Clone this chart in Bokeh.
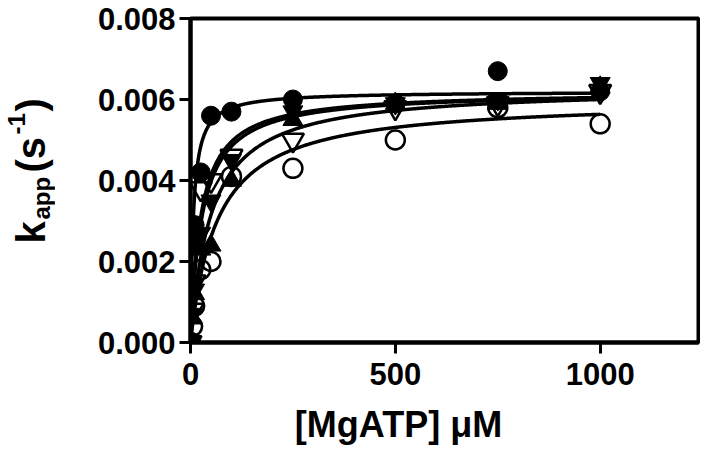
import numpy as np
from bokeh.plotting import figure
from bokeh.layouts import row, column
from bokeh.models import Range1d, FixedTicker, Label
from bokeh.embed import file_html
from bokeh.resources import INLINE

# ---------------- data ----------------
conc = [0, 5, 10, 25, 50, 100, 250, 500, 750, 1000]          # [MgATP] uM
k_filled_circle = [0.0000, 0.0025, 0.0029, 0.0042, 0.0056, 0.0057, 0.0060, 0.0059, 0.0067, 0.0062]
k_open_invtri   = [0.0000, 0.0008, 0.0015, 0.0038, 0.0040, 0.0046, 0.0050, 0.0058, 0.0059, 0.0062]
k_filled_tri    = [0.0000, 0.0006, 0.0012, 0.0023, 0.0024, 0.0040, 0.0055, 0.0059, 0.0059, 0.0063]
k_open_circle   = [0.0000, 0.0004, 0.0009, 0.0018, 0.0020, 0.0041, 0.0043, 0.0050, 0.0058, 0.0054]
k_filled_invtri = [0.0000, 0.0007, 0.0013, 0.0027, 0.0035, 0.0045, 0.0057, 0.0059, 0.0060, 0.0064]

# fitted hyperbola parameters (Vmax, Km) per series
fit_vmax = [0.0062, 0.0062, 0.0063, 0.0060, 0.0062]
fit_km   = [7, 25, 50, 65, 28]

x_ticks = [0, 500, 1000]
y_ticks = [0.000, 0.002, 0.004, 0.006, 0.008]
y_tick_labels = ["0.000", "0.002", "0.004", "0.006", "0.008"]
x_title = "[MgATP] \u03bcM"

FONT = "Liberation Sans"

# ---------------- layout ----------------
PAGE = 8
TOTAL_W, TOTAL_H = 700, 447
TITLE_H = 46                 # strip below that carries the x title
H = TOTAL_H - TITLE_H        # height of main row
LW_FIG = 55                  # narrow figure that carries the y title
W = TOTAL_W - LW_FIG         # main figure
FL, FR, FT, FB = 198 - PAGE - LW_FIG, W - 2, 18, 342   # frame edges (main fig px)
X0, X1 = 0, 1240
Y0, Y1 = 0.0, 0.008

p = figure(width=W, height=H, output_backend="svg", toolbar_location=None,
           x_range=Range1d(X0, X1), y_range=Range1d(Y0, Y1),
           min_border_left=FL, min_border_right=W - FR, min_border_top=FT,
           min_border_bottom=H - FB)
p.grid.visible = False
p.background_fill_color = "white"
p.border_fill_color = "white"
p.outline_line_color = "black"
p.outline_line_width = 4

for ax in (p.xaxis[0], p.yaxis[0]):
    ax.axis_line_width = 4
    ax.major_tick_line_width = 3
    ax.major_tick_out = 11
    ax.major_tick_in = 0
    ax.minor_tick_line_color = None
    ax.major_label_text_font = FONT
    ax.major_label_text_font_style = "bold"
    ax.major_label_text_font_size = "31px"
    ax.major_label_text_color = "black"

p.xaxis.ticker = FixedTicker(ticks=x_ticks)
p.yaxis.ticker = FixedTicker(ticks=y_ticks)
p.yaxis.major_label_overrides = {t: s for t, s in zip(y_ticks, y_tick_labels)}
p.xaxis.major_label_standoff = 9
p.yaxis.major_label_standoff = 4

# ---------------- fitted curves ----------------
xs = np.linspace(0, 1000, 600)
for vmax, km in zip(fit_vmax, fit_km):
    p.line(xs, vmax * xs / (km + xs), line_color="black", line_width=3.5)

# ---------------- data points ----------------
LW = 2.5
p.scatter(conc, k_open_circle, marker="circle", size=19, fill_alpha=0,
          line_color="black", line_width=LW)
p.scatter(conc, k_open_invtri, marker="inverted_triangle", size=22, fill_alpha=0,
          line_color="black", line_width=LW)
p.scatter(conc, k_filled_tri, marker="triangle", size=20, fill_color="black",
          line_color="black")
p.scatter(conc, k_filled_invtri, marker="inverted_triangle", size=20, fill_color="black",
          line_color="black")
p.scatter(conc, k_filled_circle, marker="circle", size=19, fill_color="black",
          line_color="black")

# ---------------- y title in its own narrow figure ----------------
# its frame is aligned with the main frame; ranges are set so that data coords = page px
q = figure(width=LW_FIG, height=H, output_backend="svg", toolbar_location=None,
           x_range=Range1d(PAGE, PAGE + LW_FIG),
           y_range=Range1d(FB + PAGE, FT + PAGE),
           x_axis_location=None, y_axis_location=None,
           min_border_left=0, min_border_right=0,
           min_border_top=FT, min_border_bottom=H - FB)
q.grid.visible = False
q.outline_line_color = None
q.border_fill_color = "white"
q.background_fill_color = "white"

ylab_parts = [
    # text, start (page y), baseline (page x), size
    ("k", 251, 38, "40px"),
    ("app", 227, 49, "24px"),
    ("(s", 180, 38, "40px"),
    ("-1", 142, 24, "24px"),
    (")", 119, 38, "40px"),
]
for txt, py, px, fs in ylab_parts:
    q.add_layout(Label(x=px, y=py, text=txt, angle=np.pi / 2,
                       text_font=FONT, text_font_style="bold", text_font_size=fs,
                       text_align="left", text_baseline="alphabetic",
                       text_color="black"))

# ---------------- x title in a strip below ----------------
r = figure(width=TOTAL_W, height=TITLE_H, output_backend="svg", toolbar_location=None,
           x_range=Range1d(0, TOTAL_W), y_range=Range1d(0, 1),
           x_axis_location=None, y_axis_location=None,
           min_border_left=0, min_border_right=0, min_border_top=0, min_border_bottom=0)
r.grid.visible = False
r.outline_line_color = None
r.border_fill_color = "white"
r.background_fill_color = "white"
r.add_layout(Label(x=406 - PAGE, y=0.5, text=x_title, text_font=FONT, text_font_style="bold",
                   text_font_size="36px", text_align="center", text_baseline="middle",
                   text_color="black"))

layout = column(row(q, p, spacing=0), r, spacing=0)
open("out.html", "w").write(file_html(layout, INLINE))
